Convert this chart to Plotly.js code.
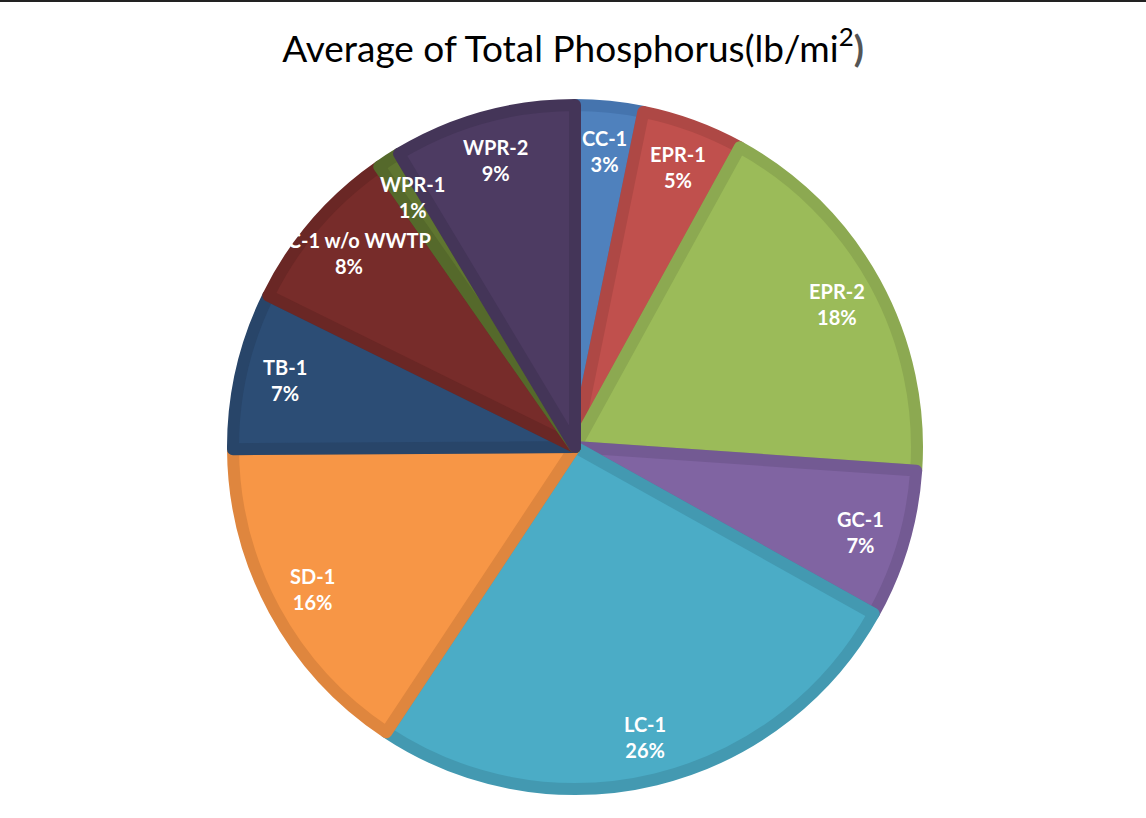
<!DOCTYPE html>
<html>
<head>
<meta charset="utf-8">
<script src="https://cdn.plot.ly/plotly-3.0.1.min.js"></script>
<style>
html,body{margin:0;padding:0;background:#fff;}
#chart{width:1146px;height:818px;position:absolute;left:0;top:0;}
#topline{position:absolute;left:0;top:0;width:1146px;height:2px;background:#222;z-index:10;}
</style>
</head>
<body>
<div id="chart"></div>
<div id="topline"></div>
<script>
const labels = ["CC-1","EPR-1","EPR-2","GC-1","LC-1","SD-1","TB-1","WC-1 w/o WWTP","WPR-1","WPR-2"];
const values = [3.2, 4.8, 18.1, 7.0, 26.2, 15.6, 7.4, 8.0, 1.1, 8.6];
const fillColors = ["#4F81BD","#C0504D","#9BBB59","#8064A2","#4BACC6","#F79646","#2C4D75","#772C2A","#5F7530","#4D3B62"];
const edgeColors = ["#4574AE","#AE4845","#8CA951","#735A93","#4399B1","#DF863E","#284569","#6A2725","#55692B","#443558"];

const W = 1146, H = 818;
const cx = 575, cy = 447, R = 342;       // pie geometry (pixels)
const labelDist = 298;                    // label radius (pixels)
const margin = {l: cx - R, r: W - (cx + R), t: cy - R, b: H - (cy + R)};

const trace = {
  type: "pie",
  labels: labels,
  values: values,
  sort: false,
  direction: "clockwise",
  rotation: 0,
  textinfo: "none",
  hoverinfo: "label+percent",
  marker: {colors: fillColors, line: {color: edgeColors, width: 12}},
  showlegend: false
};

// data labels placed along each slice's mid-angle, derived from the values
const total = values.reduce((a, b) => a + b, 0);
let cum = 0;
const annotations = values.map((v, i) => {
  const mid = (cum + v / 2) / total;
  cum += v;
  const th = 2 * Math.PI * mid;
  const d = labelDist / (2 * R);
  return {
    xref: "paper", yref: "paper",
    x: 0.5 + d * Math.sin(th),
    y: 0.5 + d * Math.cos(th),
    xanchor: "center", yanchor: "middle",
    showarrow: false,
    text: "<b>" + labels[i] + "<br>" + Math.round(v / total * 100) + "%</b>",
    font: {family: "Lato, 'Open Sans', sans-serif", size: 20, color: "#ffffff"}
  };
});

const layout = {
  width: W,
  height: H,
  paper_bgcolor: "#ffffff",
  plot_bgcolor: "#ffffff",
  margin: margin,
  title: {
    text: "Average of Total Phosphorus(lb/mi<sup>2</sup><b><span style='color:#555'>)</span></b>",
    font: {family: "Lato, 'Open Sans', sans-serif", size: 37, color: "#000000"},
    x: 0.5, xanchor: "center", y: 0.94, yanchor: "middle"
  },
  annotations: annotations
};

Plotly.newPlot("chart", [trace], layout, {displayModeBar: false, staticPlot: true});
</script>
</body>
</html>
